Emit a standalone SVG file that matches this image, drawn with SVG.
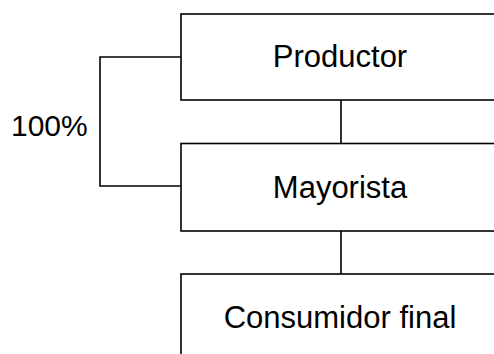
<svg xmlns="http://www.w3.org/2000/svg" width="494" height="354" viewBox="0 0 494 354">
<style>
.box{fill:#fff;stroke:#000;stroke-width:1.6}
.ln{fill:none;stroke:#000;stroke-width:1.6}
text{font-family:"Liberation Sans",Arial,sans-serif;font-size:30px;fill:#000}
.c{text-anchor:middle;font-size:31px}
</style>
<rect width="494" height="354" fill="#fff"/>
<g id="connectors">
<line class="ln" x1="341" y1="100" x2="341" y2="143.5"/>
<line class="ln" x1="341" y1="231" x2="341" y2="274"/>
<polyline class="ln" points="181,57 100,57 100,186 181,186"/>
</g>
<g id="productor">
<rect class="box" x="181" y="14" width="320" height="86"/>
<text class="c" x="340" y="67.3">Productor</text>
</g>
<g id="mayorista">
<rect class="box" x="181" y="143.5" width="320" height="87.5"/>
<text class="c" x="340" y="197.5">Mayorista</text>
</g>
<g id="consumidor">
<rect class="box" x="181" y="274" width="320" height="90"/>
<text class="c" x="340" y="328.3">Consumidor final</text>
</g>
<g id="label">
<text x="11" y="136">100%</text>
</g>
</svg>
